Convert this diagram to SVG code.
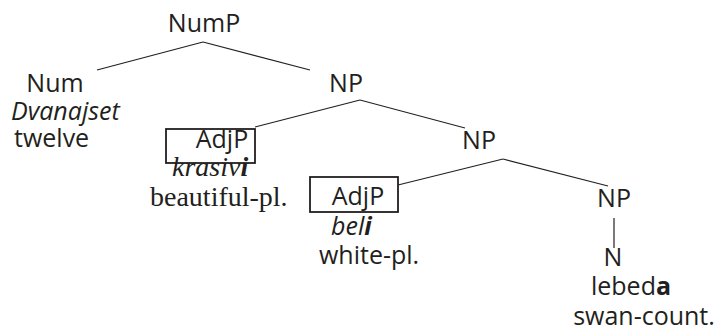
<svg xmlns="http://www.w3.org/2000/svg" width="721" height="336" viewBox="0 0 721 336">
<style>
.s{font-family:"Open Sans","Noto Sans",sans-serif;font-size:25px;fill:#231f20}
.si{font-family:"Open Sans","Noto Sans",sans-serif;font-size:25px;font-style:italic;fill:#231f20}
.r{font-family:"Liberation Serif","Times New Roman",serif;font-size:28px;fill:#231f20}
.ri{font-family:"Liberation Serif","Times New Roman",serif;font-size:28px;font-style:italic;fill:#231f20}
.m{text-anchor:middle}
.b{font-weight:bold}
.box{fill:none;stroke:#231f20;stroke-width:1.8}
.e{stroke:#231f20;stroke-width:1.2;fill:none}
</style>
<rect width="721" height="336" fill="#fff"/>
<g id="connectors">
<line class="e" x1="203" y1="42" x2="97" y2="70"/>
<line class="e" x1="203" y1="42" x2="310" y2="70"/>
<line class="e" x1="360" y1="100" x2="255" y2="127"/>
<line class="e" x1="360" y1="100" x2="465" y2="128"/>
<line class="e" x1="503" y1="159" x2="398" y2="185"/>
<line class="e" x1="503" y1="159" x2="608" y2="186"/>
<line class="e" x1="614" y1="218" x2="614" y2="248"/>
</g>
<g id="NumP"><text class="s m" x="204" y="32">NumP</text></g>
<g id="Num">
<text class="s m" x="55" y="92">Num</text>
<text class="si" x="11" y="120">Dvanajset</text>
<text class="s" x="14" y="147">twelve</text>
</g>
<g id="NP1"><text class="s m" x="346" y="92">NP</text></g>
<g id="AdjP1">
<rect class="box" x="166" y="129" width="89" height="34"/>
<text class="s m" x="222" y="148">AdjP</text>
<text class="ri" x="172" y="176">krasiv<tspan class="b">i</tspan></text>
<text class="r" x="150" y="206">beautiful-pl.</text>
</g>
<g id="NP2"><text class="s m" x="479" y="149">NP</text></g>
<g id="AdjP2">
<rect class="box" x="310" y="177" width="88" height="35"/>
<text class="s m" x="358" y="205">AdjP</text>
<text class="si" x="331" y="235">bel<tspan class="b">i</tspan></text>
<text class="s" x="319" y="264">white-pl.</text>
</g>
<g id="NP3"><text class="s m" x="614" y="207">NP</text></g>
<g id="N">
<text class="s m" x="613" y="266">N</text>
<text class="s m" x="631" y="295">lebed<tspan class="b">a</tspan></text>
<text class="s m" x="644" y="325">swan-count.</text>
</g>
</svg>
